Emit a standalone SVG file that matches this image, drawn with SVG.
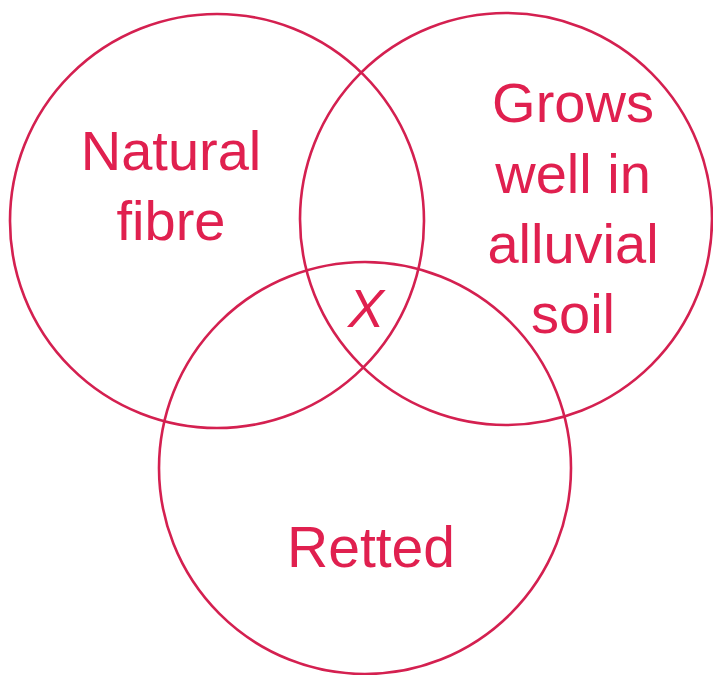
<svg xmlns="http://www.w3.org/2000/svg" width="713" height="675" viewBox="0 0 713 675">
<style>
.c{fill:none;stroke:#d42050;stroke-width:2.6}
.t{font-family:"Liberation Sans",Arial,sans-serif;font-size:56px;fill:#e0204f;text-anchor:middle}
</style>
<rect width="713" height="675" fill="#fff"/>
<g id="natural-fibre">
<circle class="c" cx="217" cy="221" r="207"/>
<text class="t" x="171" y="170">Natural</text>
<text class="t" x="171" y="240">fibre</text>
</g>
<g id="alluvial-soil">
<circle class="c" cx="506" cy="219" r="206"/>
<text class="t" x="573" y="122">Grows</text>
<text class="t" x="573" y="193">well in</text>
<text class="t" x="573" y="263">alluvial</text>
<text class="t" x="573" y="333">soil</text>
</g>
<g id="retted">
<circle class="c" cx="365" cy="468" r="206"/>
<text class="t" x="371" y="567" style="font-size:57px">Retted</text>
</g>
<g id="x-label">
<text class="t" x="366" y="327" style="font-size:54px;font-style:italic;font-weight:300">X</text>
</g>
<g id="connectors"></g>
</svg>
